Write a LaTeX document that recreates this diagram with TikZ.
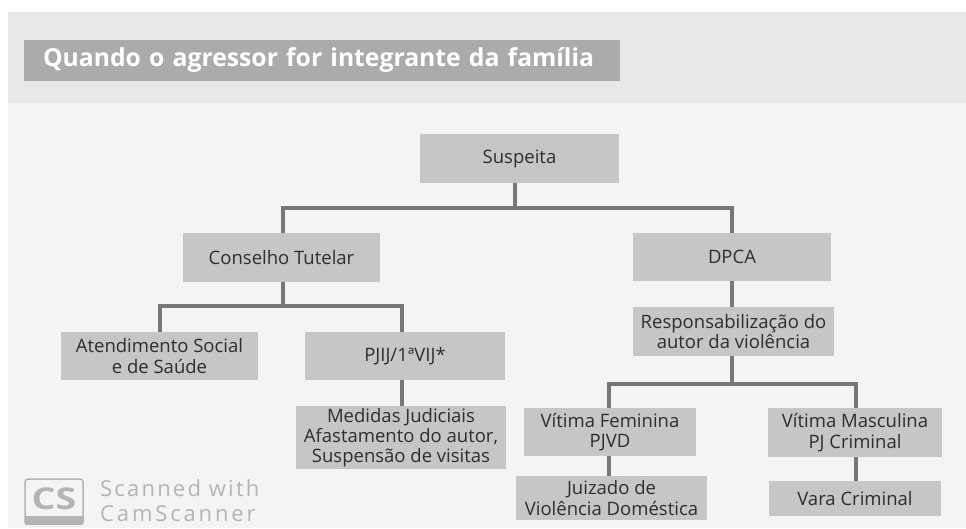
\documentclass[tikz,border=0pt]{standalone}
\usepackage{fontspec}
\setmainfont{Open Sans}
\tikzset{
  x=1pt,y=-1pt,
  gbox/.style={fill=boxgray,draw=none,inner sep=0pt,align=center,text=textgray,font=\fontsize{18.5}{20.3}\selectfont},
  link/.style={draw=linkgray,line width=3.6pt}
}
\definecolor{boxgray}{HTML}{C6C6C6}
\definecolor{linkgray}{HTML}{777777}
\definecolor{textgray}{HTML}{2E2E2E}
\definecolor{band}{HTML}{E8E8E8}
\definecolor{panel}{HTML}{F4F4F4}
\definecolor{titlebox}{HTML}{ABABAB}
\definecolor{wmgray}{HTML}{B4B4B4}
\newcommand{\bx}[6]{\node[gbox,minimum width=#4pt-#3pt,minimum height=#6pt-#5pt] (#1) at ({(#3+#4)/2},{(#5+#6)/2}) {#2};}
\begin{document}
\begin{tikzpicture}
\useasboundingbox (0,0) rectangle (966,528);
\fill[white] (0,0) rectangle (966,528);
\fill[band] (8,12) rectangle (966,103);
\fill[panel] (8,103) rectangle (966,528);
\node[fill=titlebox,inner xsep=19pt,inner ysep=0pt,text width=558pt,align=left,minimum height=41pt,text=white,font=\fontsize{24.7}{26}\selectfont\bfseries] (title) at (322,60) {\raisebox{-2pt}{Quando o agressor for integrante da família}};
\bx{sus}{Suspeita}{420}{619}{134}{183}
\bx{ct}{Conselho Tutelar}{183}{380}{233}{282}
\bx{dpca}{DPCA}{633}{831}{233}{281}
\bx{at}{Atendimento Social\\e de Saúde}{61}{258}{332}{380}
\bx{pj}{PJIJ/1ªVIJ*}{305}{505}{332}{380}
\bx{med}{Medidas Judiciais\\Afastamento do autor,\\Suspensão de visitas}{296}{506}{406}{469}
\bx{resp}{Responsabilização do\\autor da violência}{633}{834}{307}{356}
\bx{vf}{Vítima Feminina\\PJVD}{524}{696}{408}{456}
\bx{jz}{Juizado de\\Violência Doméstica}{516}{707}{476}{520}
\bx{vm}{Vítima Masculina\\PJ Criminal}{768}{942}{408}{457}
\bx{vc}{Vara Criminal}{769}{941}{481}{516}
\coordinate (j1) at (515,208);
\coordinate (j2) at (283,306);
\coordinate (j3) at (732,384);
\coordinate (ctx) at (283,208);
\coordinate (dpx) at (732,208);
\coordinate (atx) at (160,306);
\coordinate (pjx) at (402,306);
\coordinate (vfx) at (609,384);
\coordinate (vmx) at (856,384);
\draw[link] (j1 |- sus.south) -- (j1);
\draw[link] (ctx |- ct.north) -- (ctx) -- (dpx) -- (dpx |- dpca.north);
\draw[link] (j2 |- ct.south) -- (j2);
\draw[link] (atx |- at.north) -- (atx) -- (pjx) -- (pjx |- pj.north);
\draw[link] (pjx |- pj.south) -- (pjx |- med.north);
\draw[link] (dpx |- dpca.south) -- (dpx |- resp.north);
\draw[link] (j3 |- resp.south) -- (j3);
\draw[link] (vfx |- vf.north) -- (vfx) -- (vmx) -- (vmx |- vm.north);
\draw[link] (vfx |- vf.south) -- (vfx |- jz.north);
\draw[link] (vmx |- vm.south) -- (vmx |- vc.north);
\draw[wmgray,line width=1.5pt,rounded corners=3pt] (25,479) rectangle (83,524);
\fill[wmgray,rounded corners=2pt] (24.5,516) rectangle (83.5,525);
\node[text=wmgray,font=\fontsize{30}{30}\selectfont\bfseries,xscale=1.25,transform shape,inner sep=0pt] (cs) at (54,499) {CS};
\node[text=wmgray,anchor=west,align=left,font=\fontsize{22}{25}\selectfont,inner sep=0pt] (scan) at (100,501) {\addfontfeature{LetterSpace=10}Scanned with\\\addfontfeature{LetterSpace=13}CamScanner};
\end{tikzpicture}
\end{document}
